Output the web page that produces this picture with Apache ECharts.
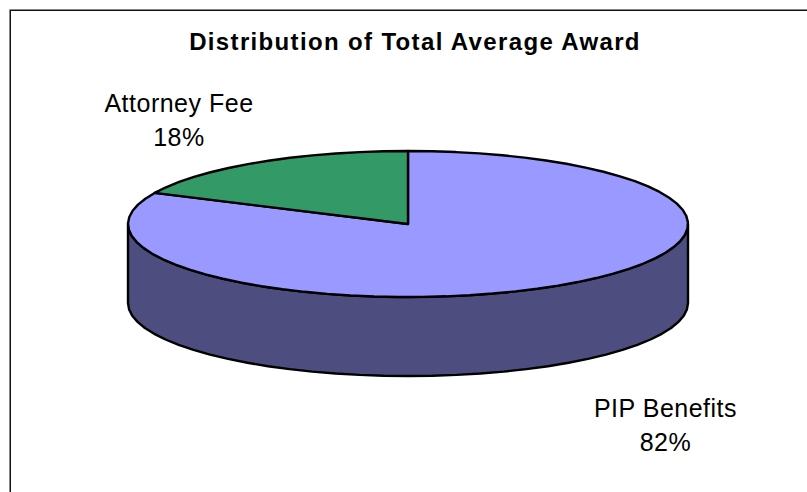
<!DOCTYPE html>
<html>
<head>
<meta charset="utf-8">
<style>
html,body{margin:0;padding:0;background:#fff}
#main{width:807px;height:492px}
#main text{letter-spacing:.5px}
#main text[style*="bold"]{letter-spacing:1.35px}
</style>
<script src="https://cdn.jsdelivr.net/npm/echarts@6/dist/echarts.min.js"></script>
</head>
<body>
<div id="main"></div>
<script>
var categories = ['PIP Benefits', 'Attorney Fee'];
var values = [82, 18];
var topColors = ['#9999ff', '#339966'];
var sideColors = ['#4d4d80', '#1a4d33'];

// disc geometry
var cx = 408, cy = 224, rx = 280, ry = 73, depth = 79;
var labelPos = [[665.5, 424.5], [179, 120]];
var total = values[0] + values[1];
var font = 'Liberation Sans';

function pt(deg, dy) {
  var a = deg * Math.PI / 180;
  return [cx + rx * Math.sin(a), cy - ry * Math.cos(a) + (dy || 0)];
}
// coarse steps on purpose, the original outline is faceted
function arc(from, to, dy) {
  var pts = [];
  var n = Math.max(2, Math.ceil(Math.abs(to - from) / 5));
  for (var i = 0; i <= n; i++) {
    pts.push(pt(from + (to - from) * i / n, dy));
  }
  return pts;
}

function renderItem(params, api) {
  var i = params.dataIndex;
  var start = 0;
  for (var k = 0; k < i; k++) start += values[k] / total * 360;
  var end = start + api.value(0) / total * 360;
  var children = [];
  // front wall, only the part facing us
  var a = Math.max(start, 90), b = Math.min(end, 270);
  if (b > a) {
    children.push({
      type: 'polygon',
      shape: {points: arc(a, b, 0).concat(arc(b, a, depth))},
      style: {fill: sideColors[i], stroke: '#000', lineWidth: 2.4, lineJoin: 'round'}
    });
  }
  children.push({
    type: 'polygon',
    shape: {points: [[cx, cy]].concat(arc(start, end, 0))},
    style: {fill: topColors[i], stroke: '#000', lineWidth: 2.4, lineJoin: 'round'},
    z2: 5
  });
  children.push({
    type: 'text',
    z2: 10,
    style: {
      x: labelPos[i][0], y: labelPos[i][1],
      text: categories[i] + '\n' + api.value(0) + '%',
      align: 'center', verticalAlign: 'middle',
      font: '25px "' + font + '"', lineHeight: 34, fill: '#000'
    }
  });
  return {type: 'group', children: children};
}

var myChart = echarts.init(document.getElementById('main'), null, {renderer: 'svg'});
var option = {
  animation: false,
  backgroundColor: '#fff',
  title: {
    text: 'Distribution of Total Average Award',
    left: 410, top: 24, textAlign: 'center',
    textStyle: {fontFamily: font, fontSize: 24, fontWeight: 'bold', color: '#000'}
  },
  graphic: [
    {type: 'polyline', shape: {points: [[10.25, 492], [10.25, 10.25], [807, 10.25]]},
     style: {stroke: '#111', lineWidth: 1.5, fill: null}}
  ],
  series: [{
    type: 'custom',
    coordinateSystem: 'none',
    renderItem: renderItem,
    data: values.map(function (v) { return [v]; }),
    silent: true
  }]
};
myChart.setOption(option);
</script>
</body>
</html>
